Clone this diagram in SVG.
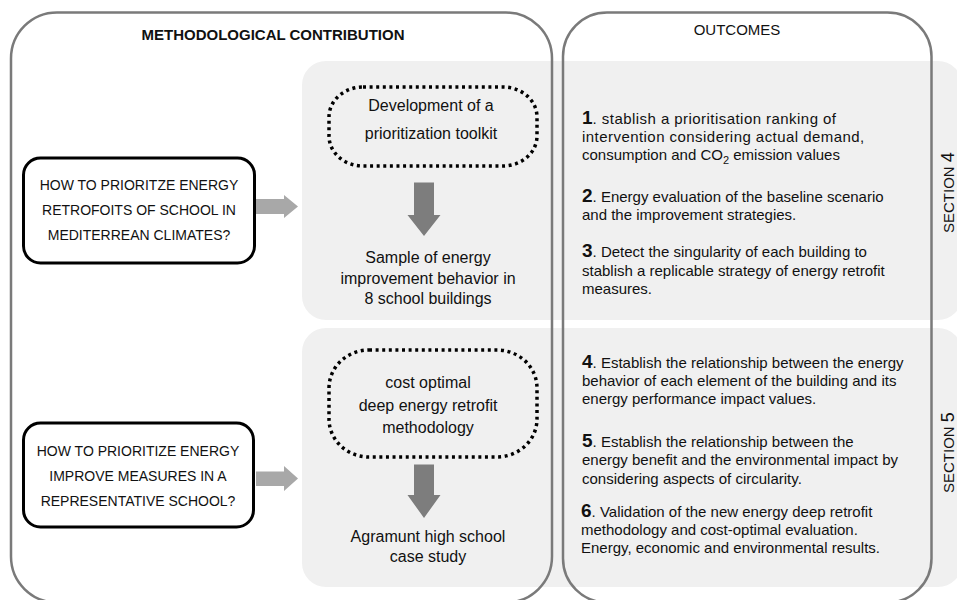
<svg xmlns="http://www.w3.org/2000/svg" width="957" height="600" viewBox="0 0 957 600">
  <defs>
    <style>
      text { font-family: "Liberation Sans", Arial, sans-serif; fill: #111; }
      .band { fill: #f0f0f0; }
      .panel { fill: none; stroke: #7a7a7a; stroke-width: 2.5; }
      .title { font-size: 15px; text-anchor: middle; }
      .bold { font-weight: bold; }
      .question rect { fill: #fff; stroke: #000; stroke-width: 3; }
      .question text { font-size: 14px; text-anchor: middle; }
      .method rect { fill: none; stroke: #000; stroke-width: 3.5; stroke-dasharray: 3 3.6; }
      .method text, .result text { font-size: 16px; text-anchor: middle; }
      .outcome text { font-size: 15px; }
      .wide { letter-spacing: 0.45px; }
      .num { font-weight: bold; font-size: 19px; letter-spacing: 0; }
      .section { font-size: 15px; }
      .side-arrow { fill: #a8a8a8; }
      .down-arrow { fill: #7d7d7d; }
    </style>
  </defs>

  <!-- background bands for the two sections -->
  <rect class="band" x="302" y="61" width="660" height="259" rx="24"/>
  <rect class="band" x="302" y="328" width="660" height="259" rx="24"/>

  <!-- column frames -->
  <g id="col-method">
    <rect class="panel" x="11" y="12.5" width="541" height="590" rx="46"/>
    <text class="title bold" x="273" y="40">METHODOLOGICAL CONTRIBUTION</text>
  </g>
  <g id="col-outcomes">
    <rect class="panel" x="563" y="12.5" width="368.5" height="590" rx="44"/>
    <text class="title" x="737" y="35">OUTCOMES</text>
  </g>

  <!-- research questions -->
  <g id="q1" class="question">
    <rect x="23.5" y="158" width="231" height="105" rx="17"/>
    <text x="139" y="190">HOW TO PRIORITZE ENERGY</text>
    <text x="139" y="215">RETROFOITS OF SCHOOL IN</text>
    <text x="139" y="240">MEDITERREAN CLIMATES?</text>
  </g>
  <g id="q2" class="question">
    <rect x="23.5" y="423" width="230" height="104" rx="17"/>
    <text x="138" y="456">HOW TO PRIORITIZE ENERGY</text>
    <text x="138" y="481">IMPROVE MEASURES IN A</text>
    <text x="138" y="506">REPRESENTATIVE SCHOOL?</text>
  </g>

  <!-- methods -->
  <g id="m1" class="method">
    <rect x="329" y="87" width="208" height="79" rx="34" ry="30"/>
    <text x="431" y="111">Development of a</text>
    <text x="431" y="139">prioritization toolkit</text>
  </g>
  <g id="m2" class="method">
    <rect x="329" y="350" width="208" height="107" rx="40" ry="38"/>
    <text x="428" y="388">cost optimal</text>
    <text x="428" y="410.5">deep energy retrofit</text>
    <text x="428" y="433">methodology</text>
  </g>

  <!-- case results -->
  <g id="r1" class="result">
    <text x="428" y="263">Sample of energy</text>
    <text x="428" y="283.5">improvement behavior in</text>
    <text x="428" y="304">8 school buildings</text>
  </g>
  <g id="r2" class="result">
    <text x="428" y="542">Agramunt high school</text>
    <text x="428" y="562">case study</text>
  </g>

  <!-- connectors -->
  <g id="connectors">
    <polygon class="side-arrow" points="256,199 284,199 284,195 298,206.5 284,218 284,214 256,214"/>
    <polygon class="side-arrow" points="256,471.5 284,471.5 284,466 298,478.5 284,491 284,486 256,486"/>
    <polygon class="down-arrow" points="414,182.5 434,182.5 434,215 440.5,215 424,236 407.5,215 414,215"/>
    <polygon class="down-arrow" points="414,464.5 434,464.5 434,495 440.5,495 424,518 407.5,495 414,495"/>
  </g>

  <!-- outcomes, section 4 -->
  <g id="o1" class="outcome">
    <text x="582" y="124" class="wide"><tspan class="num">1</tspan>. stablish a prioritisation ranking of</text>
    <text x="582" y="142" class="wide">intervention considering actual demand,</text>
    <text x="582" y="160">consumption and CO<tspan font-size="11" dy="4">2</tspan><tspan dy="-4"> emission values</tspan></text>
  </g>
  <g id="o2" class="outcome">
    <text x="582" y="201.5"><tspan class="num">2</tspan>.  Energy evaluation of the baseline scenario</text>
    <text x="582" y="219.5">and the improvement strategies.</text>
  </g>
  <g id="o3" class="outcome">
    <text x="582" y="257"><tspan class="num">3</tspan>. Detect the singularity of each building to</text>
    <text x="582" y="275.5">stablish a replicable strategy of energy retrofit</text>
    <text x="582" y="293.5">measures.</text>
  </g>

  <!-- outcomes, section 5 -->
  <g id="o4" class="outcome">
    <text x="582" y="368"><tspan class="num">4</tspan>. Establish the relationship between the energy</text>
    <text x="582" y="386">behavior of each element of the building and its</text>
    <text x="582" y="403.5">energy performance impact values.</text>
  </g>
  <g id="o5" class="outcome">
    <text x="582" y="447"><tspan class="num">5</tspan>. Establish the relationship between the</text>
    <text x="582" y="465">energy benefit and the environmental impact by</text>
    <text x="582" y="483.5">considering aspects of circularity.</text>
  </g>
  <g id="o6" class="outcome">
    <text x="581" y="516.5"><tspan class="num">6</tspan>. Validation of the new energy deep retrofit</text>
    <text x="581" y="534.5">methodology and cost-optimal evaluation.</text>
    <text x="581" y="552.5">Energy, economic and environmental results.</text>
  </g>

  <!-- section labels -->
  <g id="sec4">
    <text class="section" transform="translate(954,233) rotate(-90)">SECTION <tspan font-size="18">4</tspan></text>
  </g>
  <g id="sec5">
    <text class="section" transform="translate(954,493) rotate(-90)">SECTION <tspan font-size="18">5</tspan></text>
  </g>
</svg>
